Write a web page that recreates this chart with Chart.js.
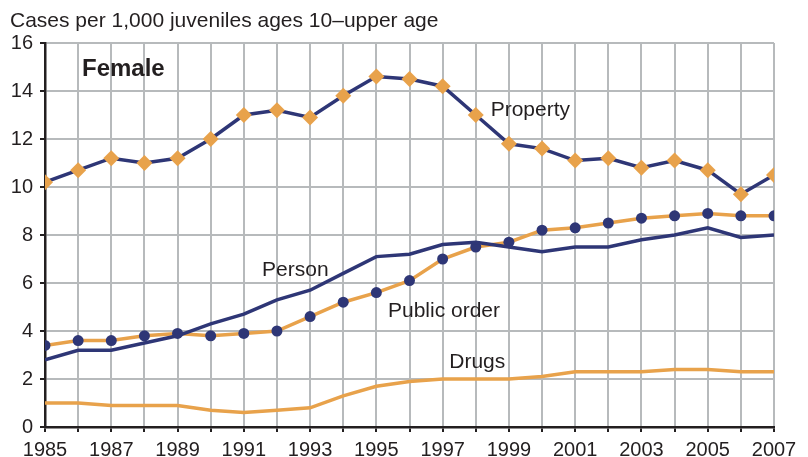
<!DOCTYPE html>
<html>
<head>
<meta charset="utf-8">
<script src="https://cdn.jsdelivr.net/npm/chart.js@4"></script>
<style>
  html, body { margin: 0; padding: 0; background: #fff; }
  #wrap { width: 808px; height: 457px; }
</style>
</head>
<body>
<div id="wrap"><canvas id="chart" width="808" height="457"></canvas></div>
<script>
const years = [1985, 1986, 1987, 1988, 1989, 1990, 1991, 1992, 1993, 1994, 1995, 1996,
  1997, 1998, 1999, 2000, 2001, 2002, 2003, 2004, 2005, 2006, 2007];

const property = [10.2, 10.7, 11.2, 11.0, 11.2, 12.0, 13.0, 13.2, 12.9, 13.8, 14.6, 14.5,
  14.2, 13.0, 11.8, 11.6, 11.1, 11.2, 10.8, 11.1, 10.7, 9.7, 10.5];
const publicOrder = [3.4, 3.6, 3.6, 3.8, 3.9, 3.8, 3.9, 4.0, 4.6, 5.2, 5.6, 6.1,
  7.0, 7.5, 7.7, 8.2, 8.3, 8.5, 8.7, 8.8, 8.9, 8.8, 8.8];
const person = [2.8, 3.2, 3.2, 3.5, 3.8, 4.3, 4.7, 5.3, 5.7, 6.4, 7.1, 7.2,
  7.6, 7.7, 7.5, 7.3, 7.5, 7.5, 7.8, 8.0, 8.3, 7.9, 8.0];
const drugs = [1.0, 1.0, 0.9, 0.9, 0.9, 0.7, 0.6, 0.7, 0.8, 1.3, 1.7, 1.9,
  2.0, 2.0, 2.0, 2.1, 2.3, 2.3, 2.3, 2.4, 2.4, 2.3, 2.3];

const yTicks = [0, 2, 4, 6, 8, 10, 12, 14, 16];

// series labels drawn inside the plot, anchored in data units
const seriesLabels = [
  { text: 'Property', x: 1998.45, y: 13.2 },
  { text: 'Person', x: 1991.55, y: 6.55 },
  { text: 'Public order', x: 1995.35, y: 4.83 },
  { text: 'Drugs', x: 1997.2, y: 2.7 }
];

const NAVY = '#2e3676';
const ORANGE = '#e8a24b';
const GRID = '#b7babc';
const FONT = "'Liberation Sans', Arial, sans-serif";

const pts = arr => arr.map((v, i) => ({ x: years[i], y: v }));

const textPlugin = {
  id: 'textPlugin',
  afterDraw(chart) {
    const ctx = chart.ctx;
    const xs = chart.scales.x, ys = chart.scales.y;
    ctx.save();
    ctx.fillStyle = '#231f20';
    ctx.textBaseline = 'middle';
    ctx.textAlign = 'left';
    ctx.font = '21px ' + FONT;
    ctx.fillText('Cases per 1,000 juveniles ages 10\u2013upper age', 10, 21);
    ctx.font = 'bold 24px ' + FONT;
    ctx.fillText('Female', 82, 69);
    ctx.font = '21px ' + FONT;
    seriesLabels.forEach(l => {
      ctx.fillText(l.text, xs.getPixelForValue(l.x), ys.getPixelForValue(l.y));
    });
    ctx.restore();
  }
};

new Chart(document.getElementById('chart'), {
  type: 'line',
  data: {
    datasets: [
      {
        label: 'Drugs',
        data: pts(drugs),
        borderColor: ORANGE,
        borderWidth: 3.5,
        pointRadius: 0,
        tension: 0
      },
      {
        label: 'Person',
        data: pts(person),
        borderColor: NAVY,
        borderWidth: 3.5,
        pointRadius: 0,
        tension: 0
      },
      {
        label: 'Public order',
        data: pts(publicOrder),
        borderColor: ORANGE,
        borderWidth: 3.5,
        pointStyle: 'circle',
        pointRadius: 5.5,
        pointBackgroundColor: NAVY,
        pointBorderWidth: 0,
        tension: 0
      },
      {
        label: 'Property',
        data: pts(property),
        borderColor: NAVY,
        borderWidth: 3.5,
        pointStyle: 'rectRot',
        pointRadius: 8,
        pointBackgroundColor: ORANGE,
        pointBorderWidth: 0,
        tension: 0
      }
    ]
  },
  options: {
    responsive: false,
    animation: false,
    layout: { padding: { top: 43, right: 34, left: 0, bottom: 0 } },
    plugins: {
      legend: { display: false },
      tooltip: { enabled: false }
    },
    scales: {
      x: {
        type: 'linear',
        min: 1985,
        max: 2007,
        afterBuildTicks: axis => { axis.ticks = years.map(v => ({ value: v })); },
        afterFit: axis => { axis.height = 30; },
        ticks: {
          autoSkip: false,
          maxRotation: 0,
          padding: 6,
          color: '#231f20',
          font: { family: FONT, size: 20 },
          callback: v => (v % 2 === 1 ? String(v) : '')
        },
        grid: { color: GRID, lineWidth: 2, tickColor: '#231f20', tickLength: 5 },
        border: { color: '#231f20', width: 2.5 }
      },
      y: {
        min: 0,
        max: 16,
        afterBuildTicks: axis => { axis.ticks = yTicks.map(v => ({ value: v })); },
        afterFit: axis => { axis.width = 45; },
        ticks: {
          padding: 7,
          color: '#231f20',
          font: { family: FONT, size: 20 }
        },
        grid: { color: GRID, lineWidth: 2, tickColor: '#231f20', tickLength: 5 },
        border: { color: '#231f20', width: 2.5 }
      }
    }
  },
  plugins: [textPlugin]
});
</script>
</body>
</html>
